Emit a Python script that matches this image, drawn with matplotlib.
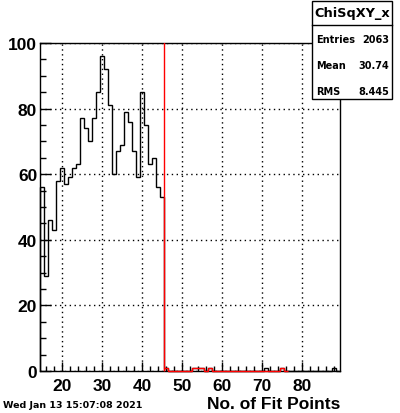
import numpy as np
import matplotlib
matplotlib.use("Agg")
import matplotlib.pyplot as plt
from matplotlib.ticker import MultipleLocator

# ---- data ----
bin_lo, bin_hi = 15, 89          # integer bin centres (unit width)
black_counts = {
    15: 56, 16: 29, 17: 46, 18: 43, 19: 58, 20: 62, 21: 57, 22: 59, 23: 62, 24: 63,
    25: 77, 26: 74, 27: 70, 28: 77, 29: 85, 30: 96, 31: 92, 32: 81, 33: 60, 34: 67,
    35: 69, 36: 79, 37: 76, 38: 67, 39: 59, 40: 85, 41: 75, 42: 63, 43: 65, 44: 56,
    45: 53, 46: 1, 53: 1, 54: 1, 55: 1, 57: 1, 71: 1, 75: 1, 88: 1,
}
red_lo, red_hi = 46, 76
red_counts = {46: 1, 53: 1, 54: 1, 55: 1, 57: 1, 75: 1}
cut_value = 45.5

title = "ChiSqXY_x"
stats = [("Entries", "2063"), ("Mean", "30.74"), ("RMS", "8.445")]
xlabel = "No. of Fit Points"
datestamp = "Wed Jan 13 15:07:08 2021"
xlim = (14.5, 89.5)
ylim = (0, 100)

# ---- build arrays ----
black_bins = np.arange(bin_lo, bin_hi + 1)
black_vals = np.array([black_counts.get(b, 0) for b in black_bins], dtype=float)
black_edges = np.append(black_bins - 0.5, black_bins[-1] + 0.5)
red_bins = np.arange(red_lo, red_hi + 1)
red_vals = np.array([red_counts.get(b, 0) for b in red_bins], dtype=float)
red_edges = np.append(red_bins - 0.5, red_bins[-1] + 0.5)

fig = plt.figure(figsize=(4.0, 4.14), dpi=100)
ax = fig.add_axes([40/400, 1-372/414, 300/400, (372-44)/414])

ax.stairs(black_vals, black_edges, color="black", lw=1.0, baseline=0, zorder=3, clip_on=False)
ax.stairs(red_vals, red_edges, color="red", lw=1.0, baseline=0, zorder=4, clip_on=False)
ax.axvline(cut_value, color="red", lw=1.0, zorder=4)

ax.set_xlim(*xlim)
ax.set_ylim(*ylim)
ax.xaxis.set_major_locator(MultipleLocator(10))
ax.xaxis.set_minor_locator(MultipleLocator(2))
ax.yaxis.set_major_locator(MultipleLocator(20))
ax.yaxis.set_minor_locator(MultipleLocator(5))
ax.tick_params(axis="x", which="major", direction="in", length=6.5, width=1, pad=5)
ax.tick_params(axis="x", which="minor", direction="in", length=3.5, width=1)
ax.tick_params(axis="y", which="major", direction="in", length=8, width=1, pad=2)
ax.tick_params(axis="y", which="minor", direction="in", length=4, width=1)
for lab in ax.get_xticklabels() + ax.get_yticklabels():
    lab.set_fontfamily("Liberation Sans")
    lab.set_fontweight("bold")
    lab.set_fontsize(12.5)
ax.grid(True, which="major", color="black", linestyle=(0, (1, 2.5)), lw=1)
for s in ax.spines.values():
    s.set_linewidth(1)

fig.text(340/400, 1-405/414, xlabel, ha="right", va="center",
         fontfamily="Liberation Sans", fontweight="bold", fontsize=12.5)
fig.text(3/400, 1-406/414, datestamp, ha="left", va="center",
         fontfamily="DejaVu Sans", fontweight="bold", fontsize=6.8)

# stats box
bx0, by0, bx1, by1 = 312/400, 1-100/414, 392/400, 1-2/414
sep = 1-26/414
fig.patches.append(plt.Rectangle((bx0, by0), bx1-bx0, by1-by0, transform=fig.transFigure,
                                 facecolor="white", edgecolor="black", lw=1, zorder=10))
fig.add_artist(plt.Line2D([bx0, bx1], [sep, sep], transform=fig.transFigure, color="black", lw=1, zorder=11))
fig.text((bx0+bx1)/2, 1-14/414, title, ha="center", va="center", fontfamily="DejaVu Sans",
         fontweight="bold", fontsize=9.3, zorder=12)
for i, (k, v) in enumerate(stats):
    y = 1-(40 + i*26)/414
    fig.text(bx0 + 4/400, y, k, ha="left", va="center", fontfamily="DejaVu Sans",
             fontweight="bold", fontsize=7.0, zorder=12)
    fig.text(bx1 - 3/400, y, v, ha="right", va="center", fontfamily="DejaVu Sans",
             fontweight="bold", fontsize=7.0, zorder=12)

fig.savefig("out.png", dpi=100)
